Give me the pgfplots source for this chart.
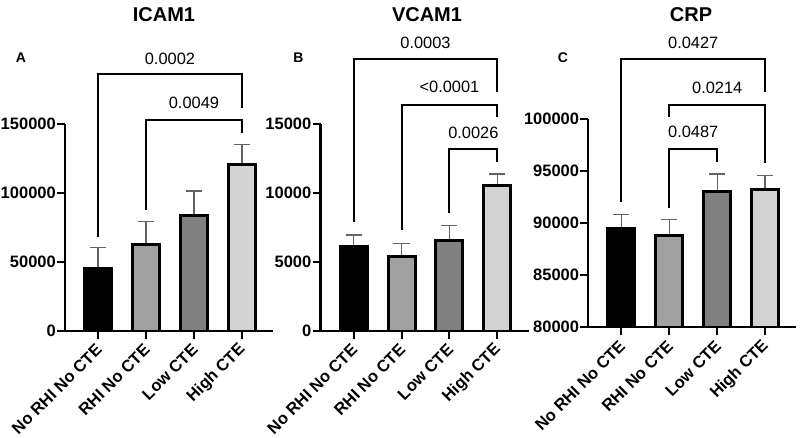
\documentclass[border=0pt]{standalone}
\usepackage{fontspec}
\setmainfont{Liberation Sans}
\usepackage{pgfplots}
\pgfplotsset{compat=1.18}
\definecolor{barA}{RGB}{0,0,0}
\definecolor{barB}{RGB}{160,160,160}
\definecolor{barC}{RGB}{128,128,128}
\definecolor{barD}{RGB}{211,211,211}
\definecolor{errc}{RGB}{100,100,100}
\tikzset{
  brk/.style={line width=2pt, black, line join=miter},
  pv/.style={font=\fontsize{16.4}{16.4}\selectfont, inner sep=0pt},
}
\pgfplotsset{
  panel/.style={
    scale only axis, width=208pt, height=207pt,
    anchor=south west,
    xmin=-0.69, xmax=3.65,
    axis x line*=bottom, axis y line*=left,
    axis line style={line width=2.3pt, black},
    clip mode=individual,
    unbounded coords=jump,
    tick align=outside, major tick length=8pt,
    every tick/.style={line width=2pt, black},
    xtick={0,1,2,3},
    xticklabels={No RHI No CTE, RHI No CTE, Low CTE, High CTE},
    x tick label style={xshift=1pt, yshift=-8pt, rotate=45, anchor=east, inner sep=0pt, font=\bfseries\fontsize{16.5}{16.5}\selectfont},
    y tick label style={inner sep=1pt, font=\bfseries\fontsize{16.5}{16.5}\selectfont},
    scaled y ticks=false,
  },
  gbar/.style={ybar, bar width=27pt, bar shift=0pt, draw=black, line width=3pt, fill=#1},
  errb/.style={errc, line width=1.4pt, mark=none},
}
\begin{document}
\begin{tikzpicture}[x=1pt,y=1pt]
\useasboundingbox (0,0) rectangle (800,437);
% titles and panel letters
\node[font=\bfseries\fontsize{20}{20}\selectfont] at (164,422) {ICAM1};
\node[font=\bfseries\fontsize{20}{20}\selectfont] at (427,422) {VCAM1};
\node[font=\bfseries\fontsize{20}{20}\selectfont] at (691,422) {CRP};
\node[font=\bfseries\fontsize{14}{14}\selectfont] at (21,379) {A};
\node[font=\bfseries\fontsize{14}{14}\selectfont] at (298.5,379) {B};
\node[font=\bfseries\fontsize{14}{14}\selectfont] at (563,379) {C};

% Panel A
\begin{axis}[panel, at={(65pt,106pt)}, ymin=0, ymax=150000,
  ytick={0,50000,100000,150000}, yticklabels={0,50000,100000,150000}]
% error bars (mean + SEM)
\addplot[errb] coordinates {(0,45400) (0,60400) (nan,nan) (-0.167,60400) (0.167,60400) (nan,nan)
  (1,62800) (1,79200) (nan,nan) (0.833,79200) (1.167,79200) (nan,nan)
  (2,84000) (2,101400) (nan,nan) (1.833,101400) (2.167,101400) (nan,nan)
  (3,121000) (3,135300) (nan,nan) (2.833,135300) (3.167,135300)};
\addplot[gbar=barA] coordinates {(0,45400)};
\addplot[gbar=barB] coordinates {(1,62800)};
\addplot[gbar=barC] coordinates {(2,84000)};
\addplot[gbar=barD] coordinates {(3,121000)};
\draw[brk] (axis cs:0,68300) -- (axis cs:0,186000) -- (axis cs:3,186000) -- (axis cs:3,161400);
\node[pv] at (axis cs:1.5,197100) {0.0002};
\draw[brk] (axis cs:1,87700) -- (axis cs:1,152600) -- (axis cs:3,152600) -- (axis cs:3,143300);
\node[pv] at (axis cs:2,165000) {0.0049};
\end{axis}

% Panel B
\begin{axis}[panel, at={(320.5pt,106pt)}, ymin=0, ymax=15000,
  ytick={0,5000,10000,15000}, yticklabels={0,5000,10000,15000}]
\addplot[errb] coordinates {(0,6100) (0,6960) (nan,nan) (-0.167,6960) (0.167,6960) (nan,nan)
  (1,5390) (1,6350) (nan,nan) (0.833,6350) (1.167,6350) (nan,nan)
  (2,6590) (2,7630) (nan,nan) (1.833,7630) (2.167,7630) (nan,nan)
  (3,10510) (3,11380) (nan,nan) (2.833,11380) (3.167,11380)};
\addplot[gbar=barA] coordinates {(0,6100)};
\addplot[gbar=barB] coordinates {(1,5390)};
\addplot[gbar=barC] coordinates {(2,6590)};
\addplot[gbar=barD] coordinates {(3,10510)};
\draw[brk] (axis cs:0,7920) -- (axis cs:0,19690) -- (axis cs:3,19690) -- (axis cs:3,17340);
\node[pv] at (axis cs:1.5,20890) {0.0003};
\draw[brk] (axis cs:1,7320) -- (axis cs:1,16410) -- (axis cs:3,16410) -- (axis cs:3,15510);
\node[pv] at (axis cs:2,17660) {<0.0001};
\draw[brk] (axis cs:2,8530) -- (axis cs:2,13170) -- (axis cs:3,13170) -- (axis cs:3,12270);
\node[pv] at (axis cs:2.5,14350) {0.0026};
\end{axis}

% Panel C
\begin{axis}[panel, at={(588.3pt,109.7pt)}, height=208pt, ymin=80000, ymax=100000,
  ytick={80000,85000,90000,95000,100000}, yticklabels={80000,85000,90000,95000,100000}]
\addplot[errb] coordinates {(0,89480) (0,90865) (nan,nan) (-0.167,90865) (0.167,90865) (nan,nan)
  (1,88780) (1,90385) (nan,nan) (0.833,90385) (1.167,90385) (nan,nan)
  (2,93105) (2,94740) (nan,nan) (1.833,94740) (2.167,94740) (nan,nan)
  (3,93270) (3,94580) (nan,nan) (2.833,94580) (3.167,94580)};
\addplot[gbar=barA] coordinates {(0,89480)};
\addplot[gbar=barB] coordinates {(1,88780)};
\addplot[gbar=barC] coordinates {(2,93105)};
\addplot[gbar=barD] coordinates {(3,93270)};
\draw[brk] (axis cs:0,92080) -- (axis cs:0,105770) -- (axis cs:3,105770) -- (axis cs:3,102650);
\node[pv] at (axis cs:1.5,107370) {0.0427};
\draw[brk] (axis cs:1,100250) -- (axis cs:1,101375) -- (axis cs:3,101375) -- (axis cs:3,95830);
\node[pv] at (axis cs:2,102980) {0.0214};
\draw[brk] (axis cs:1,91440) -- (axis cs:1,97115) -- (axis cs:2,97115) -- (axis cs:2,95920);
\node[pv] at (axis cs:1.5,98750) {0.0487};
\end{axis}
\end{tikzpicture}
\end{document}
